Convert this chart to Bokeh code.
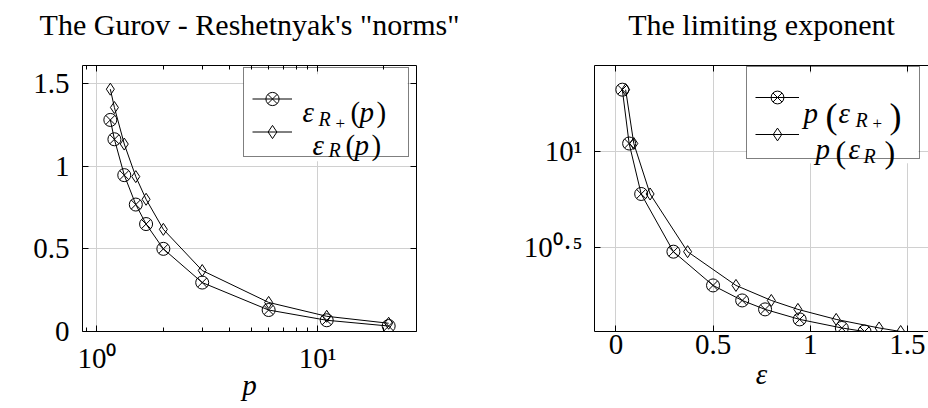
import numpy as np
from bokeh.plotting import figure
from bokeh.models import (Range1d, FixedTicker, LogAxis, LinearAxis, Label, Legend,
                          LegendItem, CustomJSTickFormatter, BoxAnnotation)
from bokeh.layouts import row
from bokeh.embed import file_html
from bokeh.resources import INLINE

# ---------------- data ----------------
p_vals = [1.15, 1.2, 1.33, 1.5, 1.67, 2.0, 3.0, 6.0, 11.0, 21.0]
eps_Rplus = [1.28, 1.163, 0.946, 0.768, 0.65, 0.5, 0.296, 0.13, 0.068, 0.033]
eps_R = [1.466, 1.355, 1.134, 0.937, 0.8, 0.618, 0.369, 0.176, 0.092, 0.05]

left_title = 'The Gurov - Reshetnyak\'s "norms"'
right_title = "The limiting exponent"
left_xlabel = "p"
right_xlabel = "ε"
left_yticks = [0, 0.5, 1, 1.5]
left_ytick_labels = ["0", "0.5", "1", "1.5"]
left_xticks = [1, 10]
left_xtick_labels = ["10⁰", "10¹"]
left_xminor = [0.9, 2, 3, 4, 5, 6, 7, 8, 9, 20]
right_xticks = [0, 0.5, 1, 1.5]
right_xtick_labels = ["0", "0.5", "1", "1.5"]
right_yticks = [10 ** 0.5, 10]
right_ytick_labels = ["10⁰·⁵", "10¹"]

FONT = "Liberation Serif"
GRID = "#d0d0d0"

# ---------------- ranges (pgfplots-like 10% enlargement) ----------------
lo, hi = np.log10(min(p_vals)), np.log10(max(p_vals))
span = hi - lo
e_lo = min(min(eps_Rplus), min(eps_R))
e_hi = max(max(eps_Rplus), max(eps_R))
e_span = e_hi - e_lo

left_x = Range1d(10 ** (lo - 0.1 * span), 10 ** (hi + 0.1 * span))
left_y = Range1d(0, e_hi + 0.1 * e_span)
right_x = Range1d(e_lo - 0.1 * e_span, e_hi + 0.1 * e_span)
right_y = Range1d(min(p_vals), 10 ** (hi + 0.1 * span))

# frame geometry (page pixels)
L_FRAME = (82, 416, 59, 331)    # left, right, top, bottom
R_FRAME = (594, 928, 65, 337)


def fmt(tvals=None, tlabels=None):
    if tvals is None:
        return CustomJSTickFormatter(code="return '';")
    return CustomJSTickFormatter(args=dict(tvals=list(tvals), tlabels=list(tlabels)),
                                 code="const i = tvals.indexOf(tick); return i >= 0 ? tlabels[i] : '';")


def style_axis(ax, ticker, formatter, standoff=0, hidden=False):
    ax.ticker = ticker
    ax.formatter = formatter
    ax.axis_line_color = "black"
    ax.axis_line_width = 1
    ax.major_tick_in = 6
    ax.major_tick_out = 0
    ax.minor_tick_in = 4
    ax.minor_tick_out = 0
    ax.major_tick_line_color = "black"
    ax.minor_tick_line_color = "black"
    ax.major_label_text_font = FONT
    ax.major_label_text_font_size = "0px" if hidden else "29px"
    ax.major_label_text_color = "black"
    ax.major_label_standoff = standoff


def axis_title(ax, text, standoff, size="29px", style="italic"):
    ax.axis_label = text
    ax.axis_label_text_font = FONT
    ax.axis_label_text_font_size = size
    ax.axis_label_text_font_style = style
    ax.axis_label_text_color = "black"
    ax.axis_label_standoff = standoff


def lab(fig, x, y, text, dx, dy, size, italic=False):
    fig.add_layout(Label(x=x, y=y, x_offset=dx, y_offset=dy, text=text, level="overlay",
                         text_font=FONT, text_font_size=f"{size}px",
                         text_font_style="italic" if italic else "normal",
                         text_align="left", text_baseline="alphabetic",
                         text_color="black"))


def px_to_data(px, f0, f1, r, log=False):
    t = (px - f0) / (f1 - f0)
    if log:
        a, b = np.log10(r.start), np.log10(r.end)
        return 10 ** (a + t * (b - a))
    return r.start + t * (r.end - r.start)


def legend_backdrop(fig, frame, xr, yr, box, xlog, ylog):
    fl, fr, ft, fb = frame
    bl, br, bt, bb = box
    fig.add_layout(BoxAnnotation(
        left=px_to_data(bl, fl, fr, xr, xlog), right=px_to_data(br, fl, fr, xr, xlog),
        bottom=px_to_data(fb - bb, 0, fb - ft, yr, ylog),
        top=px_to_data(fb - bt, 0, fb - ft, yr, ylog),
        fill_color="white", fill_alpha=1, line_color=None, level="underlay"))


def make_legend(items, loc, gw, gh, lw, spacing):
    return Legend(items=items, location=loc, padding=8, spacing=spacing,
                  glyph_width=gw, glyph_height=gh, label_width=lw, label_height=gh,
                  label_standoff=0, label_text_font_size="10px",
                  title=" ", title_text_font_size="6px", title_standoff=0,
                  border_line_color="black", border_line_width=1,
                  background_fill_alpha=0)


# ================= left figure =================
p1 = figure(width=500, height=408, x_axis_type="log", x_range=left_x, y_range=left_y,
            output_backend="svg", toolbar_location=None,
            min_border_left=82, min_border_right=84, min_border_top=59, min_border_bottom=77,
            outline_line_color=None)
p1.background_fill_color = "white"
p1.border_fill_color = "white"

lx_ticker = FixedTicker(ticks=left_xticks, minor_ticks=left_xminor)
ly_ticker = FixedTicker(ticks=left_yticks, minor_ticks=[])
style_axis(p1.below[0], lx_ticker, fmt(left_xticks, left_xtick_labels), standoff=10)
axis_title(p1.below[0], left_xlabel, -8)
style_axis(p1.left[0], ly_ticker, fmt(left_yticks, left_ytick_labels), standoff=13)
top1 = LogAxis()
style_axis(top1, lx_ticker, fmt(), hidden=True)
axis_title(top1, left_title, 25, size="30px", style="normal")
p1.add_layout(top1, "above")
right1 = LinearAxis()
style_axis(right1, ly_ticker, fmt(), hidden=True)
p1.add_layout(right1, "right")

p1.xgrid.ticker = FixedTicker(ticks=left_xticks)
p1.ygrid.ticker = FixedTicker(ticks=left_yticks)
for g in (p1.xgrid, p1.ygrid):
    g.grid_line_color = GRID
    g.grid_line_width = 1

# legend box (page px): left, right, top, bottom
L_LEG = (243, 407, 68, 157)
legend_backdrop(p1, L_FRAME, left_x, left_y, L_LEG, True, False)

a_l = p1.line(p_vals, eps_Rplus, line_color="black", line_width=1)
a_s = p1.scatter(p_vals, eps_Rplus, marker="circle_x", size=13, line_color="black",
                 fill_color=None, line_width=1)
b_l = p1.line(p_vals, eps_R, line_color="black", line_width=1)
b_s = p1.scatter(p_vals, eps_R, marker="diamond", size=12, line_color="black",
                 fill_color=None, line_width=1)

leg1 = make_legend([LegendItem(label=" ", renderers=[a_l, a_s]),
                    LegendItem(label=" ", renderers=[b_l, b_s])],
                   (L_LEG[0] - L_FRAME[0], L_FRAME[3] - L_LEG[3]), 40, 33, 108, 0)
p1.add_layout(leg1)

x1, y1 = left_x.end, left_y.end
for txt, dx, dy, sz, it in [
    ("ε", -114, -46, 29, True), ("R", -98, -53, 20, True), ("+", -81, -58, 17, False),
    ("(", -66, -46, 29, False), ("p", -57, -46, 29, True), (")", -40, -46, 29, False),
    ("ε", -104, -79, 29, True), ("R", -88, -84, 20, True),
    ("(", -71, -79, 29, False), ("p", -62, -79, 29, True), (")", -45, -79, 29, False),
]:
    lab(p1, x1, y1, txt, dx, dy, sz, italic=it)

# ================= right figure =================
p2 = figure(width=428, height=408, y_axis_type="log", x_range=right_x, y_range=right_y,
            output_backend="svg", toolbar_location=None,
            min_border_left=94, min_border_right=0, min_border_top=65, min_border_bottom=71,
            outline_line_color=None)
p2.background_fill_color = "white"
p2.border_fill_color = "white"

rx_ticker = FixedTicker(ticks=right_xticks, minor_ticks=[])
ry_ticker = FixedTicker(ticks=right_yticks, minor_ticks=[])
style_axis(p2.below[0], rx_ticker, fmt(right_xticks, right_xtick_labels), standoff=3)
axis_title(p2.below[0], right_xlabel, 1)
style_axis(p2.left[0], ry_ticker, fmt(right_yticks, right_ytick_labels), standoff=12)
top2 = LinearAxis()
style_axis(top2, rx_ticker, fmt(), hidden=True)
axis_title(top2, right_title, 25, size="30px", style="normal")
p2.add_layout(top2, "above")

p2.xgrid.ticker = FixedTicker(ticks=right_xticks)
p2.ygrid.ticker = FixedTicker(ticks=right_yticks)
for g in (p2.xgrid, p2.ygrid):
    g.grid_line_color = GRID
    g.grid_line_width = 1

R_LEG = (746, 918, 73, 165)
legend_backdrop(p2, R_FRAME, right_x, right_y, R_LEG, False, True)

c_l = p2.line(eps_Rplus, p_vals, line_color="black", line_width=1)
c_s = p2.scatter(eps_Rplus, p_vals, marker="circle_x", size=13, line_color="black",
                 fill_color=None, line_width=1)
d_l = p2.line(eps_R, p_vals, line_color="black", line_width=1)
d_s = p2.scatter(eps_R, p_vals, marker="diamond", size=12, line_color="black",
                 fill_color=None, line_width=1)

leg2 = make_legend([LegendItem(label=" ", renderers=[c_l, c_s]),
                    LegendItem(label=" ", renderers=[d_l, d_s])],
                   (R_LEG[0] - R_FRAME[0], R_FRAME[3] - R_LEG[3]), 44, 32, 112, 5)
p2.add_layout(leg2)

X0, Y1 = right_x.start, right_y.end
for txt, dx, dy, sz, it in [
    ("p", 209, -47, 29, True), ("(", 231, -50, 36, False), ("ε", 244, -47, 29, True),
    ("R", 261, -54, 20, True), ("+", 278, -58, 17, False), (")", 295, -50, 36, False),
    ("p", 221, -83, 29, True), ("(", 241, -86, 32, False), ("ε", 254, -83, 29, True),
    ("R", 269, -90, 20, True), (")", 290, -86, 32, False),
]:
    lab(p2, X0, Y1, txt, dx, dy, sz, italic=it)

layout = row(p1, p2)
open("out.html", "w").write(file_html(layout, INLINE))
